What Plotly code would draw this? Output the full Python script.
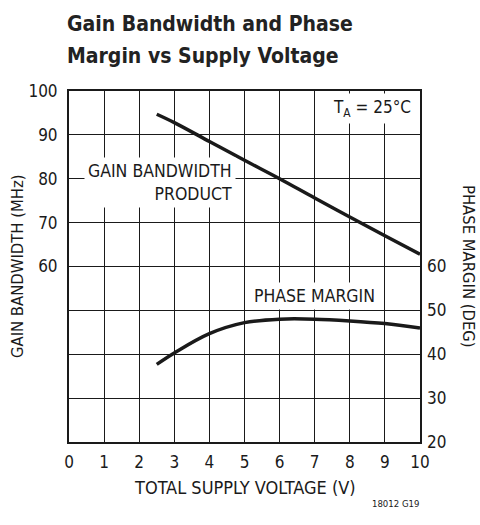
import plotly.graph_objects as go

# Data
vsupply_gbw = [2.5, 3, 4, 5, 6, 7, 8, 9, 10]
gbw_mhz = [94.7, 92.8, 88.5, 84.2, 80.0, 75.6, 71.3, 67.0, 62.8]

vsupply_pm = [2.5, 3, 4, 5, 6, 7, 8, 9, 10]
pm_deg = [37.7, 40.3, 44.7, 47.2, 48.0, 48.0, 47.6, 47.0, 46.0]

x_ticks = list(range(0, 11))
left_ticks = [60, 70, 80, 90, 100]
right_ticks = [20, 30, 40, 50, 60]

W, H = 480, 525
L, R, T, B = 69, 420, 91, 442
FONT = "DejaVu Sans Condensed, Liberation Sans Narrow, sans-serif"
INK = "#1a1a1a"

def px(xp):
    return (xp - L) / (R - L)

def py(yp):
    return (B - yp) / (B - T)

fig = go.Figure()
fig.add_trace(go.Scatter(x=vsupply_gbw, y=gbw_mhz, mode="lines",
                         line=dict(color=INK, width=3.5, shape="spline"),
                         showlegend=False, hoverinfo="skip"))
fig.add_trace(go.Scatter(x=vsupply_pm, y=pm_deg, mode="lines", yaxis="y2",
                         line=dict(color=INK, width=3.5, shape="spline"),
                         showlegend=False, hoverinfo="skip"))

axis_common = dict(showgrid=True, gridcolor=INK, gridwidth=1, zeroline=False,
                   showline=True, linecolor=INK, linewidth=2, mirror=True,
                   automargin=False,
                   ticks="", tickfont=dict(family=FONT, size=17, color=INK))

fig.update_layout(
    width=W, height=H,
    margin=dict(l=L, r=W - R, t=T, b=H - B, autoexpand=False),
    paper_bgcolor="white", plot_bgcolor="white",
    font=dict(family=FONT, color=INK),
    xaxis=dict(range=[0, 10], tickvals=x_ticks, ticklabelstandoff=4, **axis_common),
    yaxis=dict(range=[20, 100], tickvals=left_ticks, ticklabelstandoff=6, **axis_common),
    yaxis2=dict(range=[20, 100], overlaying="y", side="right", tickvals=right_ticks,
                showgrid=True, gridcolor=INK, gridwidth=1,
                zeroline=False, showline=False, ticks="",
                automargin=False, ticklabelstandoff=6,
                tickfont=dict(family=FONT, size=17, color=INK)),
)

annotations = [
    dict(text="<b>Gain Bandwidth and Phase</b>",
         xref="paper", yref="paper", x=px(L - 4), y=py(24), xanchor="left", yanchor="middle",
         showarrow=False, font=dict(family=FONT, size=21, color="#222")),
    dict(text="<b>Margin vs Supply Voltage</b>",
         xref="paper", yref="paper", x=px(L - 4), y=py(56), xanchor="left", yanchor="middle",
         showarrow=False, font=dict(family=FONT, size=21, color="#222")),
    dict(text="GAIN BANDWIDTH (MHz)", xref="paper", yref="paper", x=px(17), y=py(266),
         xanchor="center", yanchor="middle", textangle=-90, showarrow=False,
         font=dict(family=FONT, size=16.5, color=INK)),
    dict(text="PHASE MARGIN (DEG)", xref="paper", yref="paper", x=px(469), y=py(266),
         xanchor="center", yanchor="middle", textangle=90, showarrow=False,
         font=dict(family=FONT, size=16.5, color=INK)),
    dict(text="TOTAL SUPPLY VOLTAGE (V)", xref="paper", yref="paper", x=px(245), y=py(487),
         xanchor="center", yanchor="middle", showarrow=False,
         font=dict(family=FONT, size=18, color=INK)),
    dict(text="GAIN BANDWIDTH<br>PRODUCT", xref="x", yref="y", x=4.75, y=79.2,
         xanchor="right", yanchor="middle", align="right", showarrow=False,
         bgcolor="white", borderpad=3, font=dict(family=FONT, size=17.5, color=INK)),
    dict(text="PHASE MARGIN", xref="x", yref="y", x=7.0, y=53.3,
         xanchor="center", yanchor="middle", showarrow=False,
         bgcolor="white", borderpad=3, font=dict(family=FONT, size=17.5, color=INK)),
    dict(text="T<sub>A</sub> = 25°C", xref="x", yref="y", x=9.85, y=96.0,
         xanchor="right", yanchor="middle", showarrow=False,
         bgcolor="white", borderpad=3, font=dict(family=FONT, size=17, color=INK)),
    dict(text="18012 G19", xref="paper", yref="paper", x=px(421), y=py(503),
         xanchor="right", yanchor="middle", showarrow=False,
         font=dict(family=FONT, size=9.5, color=INK)),
]
fig.update_layout(annotations=annotations)

fig.write_html("out.html", config={"displayModeBar": False},
               post_script="document.body.style.margin='0';")
